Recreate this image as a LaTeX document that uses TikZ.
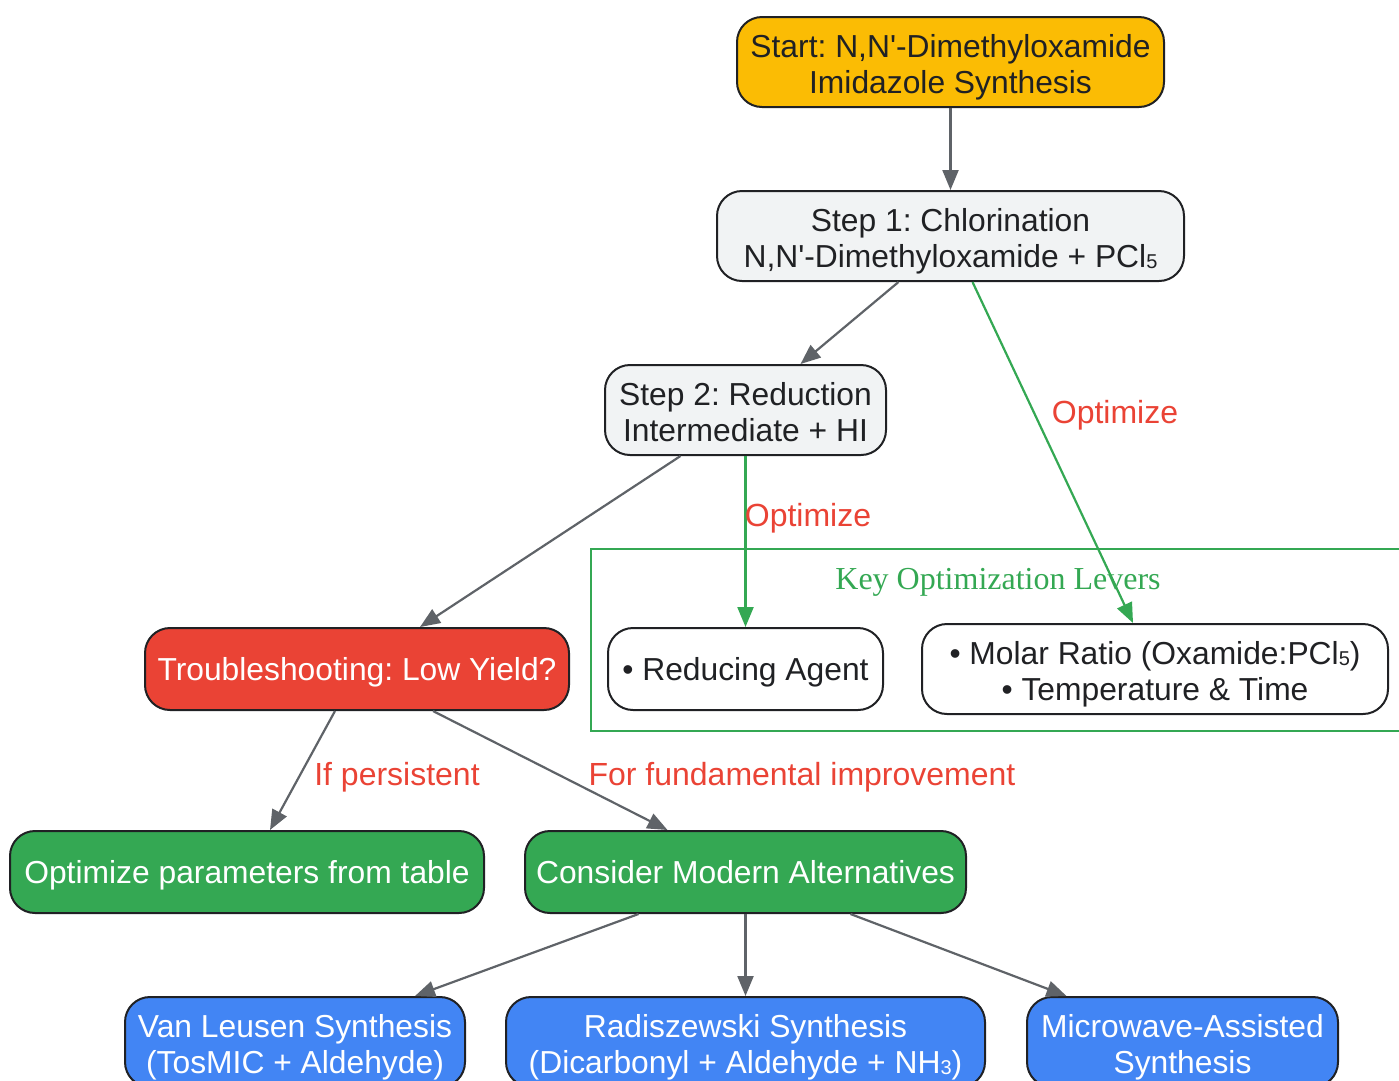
\documentclass[tikz,border=0pt]{standalone}
\usepackage{fontspec}
\setmainfont{Liberation Sans}
\newfontfamily\serifff{Liberation Serif}
\usetikzlibrary{arrows.meta}
\definecolor{cyellow}{HTML}{FBBC04}
\definecolor{cgrey}{HTML}{F1F3F4}
\definecolor{cred}{HTML}{EA4335}
\definecolor{cgreen}{HTML}{34A853}
\definecolor{cblue}{HTML}{4285F4}
\definecolor{carrow}{HTML}{5F6368}
\definecolor{ctext}{HTML}{202124}
\newcommand{\subdig}[1]{\raisebox{-0.05em}{\fontsize{20}{20}\selectfont #1}}
\newcommand{\apos}{\textquotesingle}
\frenchspacing
\tikzset{
  box/.style={draw=ctext, line width=2pt, rounded corners=25pt, align=center, inner sep=0pt,
    font=\fontsize{31.8}{36}\selectfont, text=ctext},
  twoline/.style={text height=64pt, text depth=2pt},
  oneline/.style={text height=24pt, text depth=2pt},
  conn/.style={draw=carrow, line width=2.2pt, -{Triangle[length=20pt,width=16pt]}},
  gconn/.style={draw=cgreen, line width=2.2pt, -{Triangle[length=20pt,width=16pt]}},
  elabel/.style={text=cred, font=\fontsize{32}{36}\selectfont, inner sep=0pt}
}
\begin{document}
\begin{tikzpicture}[x=1pt,y=-1pt]
\useasboundingbox (0,0) rectangle (1399,1080);
\clip (0,0) rectangle (1399,1080);
% cluster
\draw[cgreen, line width=2pt] (591,549) rectangle (1420,731);
\node[text=cgreen, font=\serifff\fontsize{32}{36}\selectfont, inner sep=0pt] (clabel) at (998,582) {Key Optimization Levers};
% nodes
\node[box, twoline, fill=cyellow, minimum width=427pt, minimum height=90pt] (start) at (950.5,62) {Start: N,N\apos-Dimethyloxamide\\Imidazole Synthesis};
\node[box, twoline, fill=cgrey, minimum width=467pt, minimum height=90pt] (step1) at (950.5,236) {Step 1: Chlorination\\N,N\apos-Dimethyloxamide + PCl\subdig{5}};
\node[box, twoline, fill=cgrey, minimum width=281pt, minimum height=90pt] (step2) at (745.5,410) {Step 2: Reduction\\Intermediate + HI};
\node[box, oneline, fill=cred, text=white, minimum width=424pt, minimum height=82pt] (trouble) at (357,669) {Troubleshooting: Low Yield?};
\node[box, oneline, fill=white, minimum width=275pt, minimum height=82pt] (reduce) at (745.5,669) {• Reducing Agent};
\node[box, twoline, fill=white, minimum width=466pt, minimum height=90pt] (molar) at (1155,669) {• Molar Ratio (Oxamide:PCl\subdig{5})\\• Temperature \& Time};
\node[box, oneline, fill=cgreen, text=white, minimum width=474pt, minimum height=82pt] (opt) at (247,872) {Optimize parameters from table};
\node[box, oneline, fill=cgreen, text=white, minimum width=441pt, minimum height=82pt] (consider) at (745.5,872) {Consider Modern Alternatives};
\node[box, twoline, fill=cblue, text=white, minimum width=340pt, minimum height=90pt] (van) at (295,1042) {Van Leusen Synthesis\\(TosMIC + Aldehyde)};
\node[box, twoline, fill=cblue, text=white, minimum width=479pt, minimum height=90pt] (rad) at (745.5,1042) {Radiszewski Synthesis\\(Dicarbonyl + Aldehyde + NH\subdig{3})};
\node[box, twoline, fill=cblue, text=white, minimum width=311pt, minimum height=90pt] (micro) at (1182.5,1042) {Microwave-Assisted\\Synthesis};
% edges
\draw[conn] (start.south) -- (step1.north);
\draw[conn] ([xshift=-52pt]step1.south) -- ([xshift=55pt]step2.north);
\draw[gconn] ([xshift=22pt]step1.south) -- ([xshift=-22pt]molar.north);
\draw[gconn] (step2.south) -- (reduce.north);
\draw[conn] ([xshift=-65pt]step2.south) -- ([xshift=63pt]trouble.north);
\draw[conn] ([xshift=-22pt]trouble.south) -- ([xshift=23pt]opt.north);
\draw[conn] ([xshift=76pt]trouble.south) -- ([xshift=-78pt]consider.north);
\draw[conn] ([xshift=-107pt]consider.south) -- ([xshift=120pt]van.north);
\draw[conn] (consider.south) -- (rad.north);
\draw[conn] ([xshift=105pt]consider.south) -- ([xshift=-116pt]micro.north);
% labels
\node[elabel] (l1) at (1115,415) {Optimize};
\node[elabel] (l2) at (808,518) {Optimize};
\node[elabel] (l3) at (397,777) {If persistent};
\node[elabel] (l4) at (802,777) {For fundamental improvement};
\end{tikzpicture}
\end{document}
